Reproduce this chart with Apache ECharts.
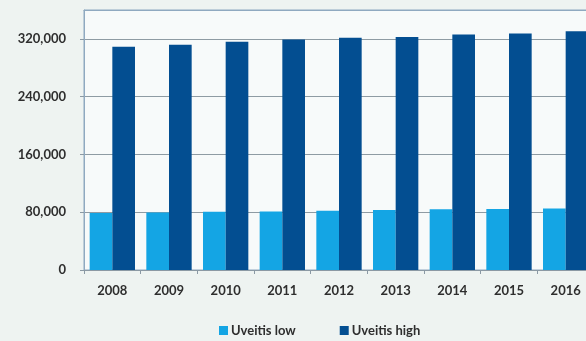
<!DOCTYPE html>
<html>
<head>
<meta charset="utf-8">
<script src="https://cdn.jsdelivr.net/npm/echarts@6/dist/echarts.min.js"></script>
<style>
  html, body { margin: 0; padding: 0; background: #eef3f1; }
  #chart { width: 586px; height: 341px; }
</style>
</head>
<body>
<div id="chart"></div>
<script>
// data
var years = ["2008", "2009", "2010", "2011", "2012", "2013", "2014", "2015", "2016"];
var uveitisLow = [79000, 79500, 80500, 81000, 82000, 83000, 84000, 84500, 85000];
var uveitisHigh = [309000, 312000, 316000, 319000, 321500, 322500, 326000, 327500, 330500];

var myChart = echarts.init(document.getElementById("chart"));

var fontBase = { fontFamily: "Lato", fontWeight: "bold", fontSize: 13, color: "#2e2e2e" };

myChart.setOption({
  backgroundColor: "#eef3f1",
  animation: false,
  // plot runs past the right edge of the picture
  grid: {
    left: 84,
    width: 510,
    top: 10,
    bottom: 71,
    outerBoundsMode: "none",
    show: true,
    backgroundColor: "#f7fafa",
    borderColor: "#8fa9c0",
    borderWidth: 1,
  },
  legend: {
    left: 214,
    top: 319,
    itemWidth: 9,
    itemHeight: 9,
    itemGap: 44,
    icon: "rect",
    textStyle: Object.assign({}, fontBase, { padding: [0, 0, 0, -2] }),
    data: ["Uveitis low", "Uveitis high"],
  },
  xAxis: [
    {
      type: "category",
      data: years,
      axisLine: { lineStyle: { color: "#8b99a4" } },
      axisTick: { show: true, length: 4, lineStyle: { color: "#8b99a4" } },
      axisLabel: Object.assign({}, fontBase, { margin: 14 }),
    },
    {
      // top border line of the plot
      type: "category",
      position: "top",
      data: years,
      axisLine: { show: true, lineStyle: { color: "#8fa9c0" } },
      axisTick: { show: false },
      axisLabel: { show: false },
    },
  ],
  yAxis: {
    type: "value",
    min: 0,
    max: 360000,
    interval: 80000,
    axisLine: { show: true, lineStyle: { color: "#8fa9c0" } },
    axisTick: { show: true, length: 4, lineStyle: { color: "#8b99a4" } },
    splitLine: { show: true, lineStyle: { color: "#8e9ba3" } },
    axisLabel: Object.assign({}, fontBase, {
      margin: 18,
      showMaxLabel: false,
      formatter: function (v) {
        return v === 360000 ? "" : v.toLocaleString("en-US");
      },
    }),
  },
  series: [
    {
      name: "Uveitis low",
      type: "bar",
      data: uveitisLow,
      barGap: "0%",
      barCategoryGap: "20%",
      itemStyle: { color: "#14a5e4" },
    },
    {
      name: "Uveitis high",
      type: "bar",
      data: uveitisHigh,
      itemStyle: { color: "#034e91" },
    },
  ],
});
</script>
</body>
</html>
